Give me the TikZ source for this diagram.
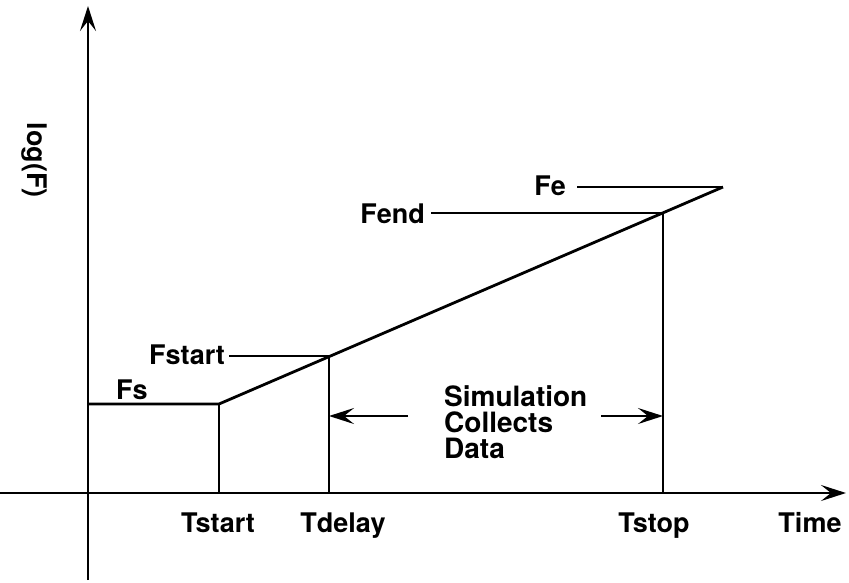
\documentclass[tikz,border=0pt]{standalone}
\usepackage{fontspec}
\setmainfont{TeX Gyre Heros}
\usetikzlibrary{arrows.meta}
\begin{document}
\begin{tikzpicture}[x=1pt,y=-1pt,
  ln/.style={line width=2.8pt},
  tip/.style={-{Stealth[length=25pt,width=16pt,inset=10pt]}},
  lbl/.style={font=\bfseries\fontsize{27}{26}\selectfont, inner sep=0pt}]
\useasboundingbox (0,0) rectangle (849,582);
% axes
\coordinate (yb) at (88,580);
\coordinate (yt) at (88,6);
\coordinate (xl) at (0,493);
\coordinate (xr) at (846,493);
\draw[ln,tip] (yb) -- (yt);
\draw[ln,tip] (xl) -- (xr);
% key points of the curve
\coordinate (p0) at (88,404);
\coordinate (p1) at (219,404);
\coordinate (p2) at (329,356);
\coordinate (p3) at (663,213);
\coordinate (p4) at (723,187);
\coordinate (b1) at (219,493);
\coordinate (b2) at (329,493);
\coordinate (b3) at (663,493);
\draw[ln,line join=miter] (p0) -- (p1) -- (p4);
\draw[ln] (p1) -- (b1);
\draw[ln] (p2) -- (b2);
\draw[ln] (p3) -- (b3);
% level labels with horizontal leader lines
\node[lbl,anchor=west] (fs) at (116,390) {Fs};
\node[lbl,anchor=east] (fstart) at (225,355) {Fstart};
\coordinate (fstartl) at (229,356);
\draw[ln] (fstartl) -- (p2);
\node[lbl,anchor=east] (fend) at (425,214) {Fend};
\coordinate (fendl) at (431,213);
\draw[ln] (fendl) -- (p3);
\node[lbl,anchor=east] (fe) at (566,186) {Fe};
\coordinate (fel) at (577,187);
\draw[ln] (fel) -- (p4);
% time labels
\node[lbl,anchor=base] (tstart) at (218,532) {Tstart};
\node[lbl,anchor=base] (tdelay) at (343,532) {Tdelay};
\node[lbl,anchor=base] (tstop) at (654,532) {Tstop};
\node[lbl,anchor=base] (time) at (810,532) {Time};
% y-axis label
\node[lbl,rotate=-90] (logf) at (34,160) {log(F)};
% data window annotation
\node[lbl,align=left,anchor=north west,font=\bfseries\fontsize{28}{26}\selectfont] (sim) at (444,385) {Simulation\\Collects\\Data};
\coordinate (al) at (408,416);
\coordinate (ar) at (601,416);
\draw[ln,tip] (al) -- (b2 |- al);
\draw[ln,tip] (ar) -- (b3 |- ar);
\end{tikzpicture}
\end{document}
